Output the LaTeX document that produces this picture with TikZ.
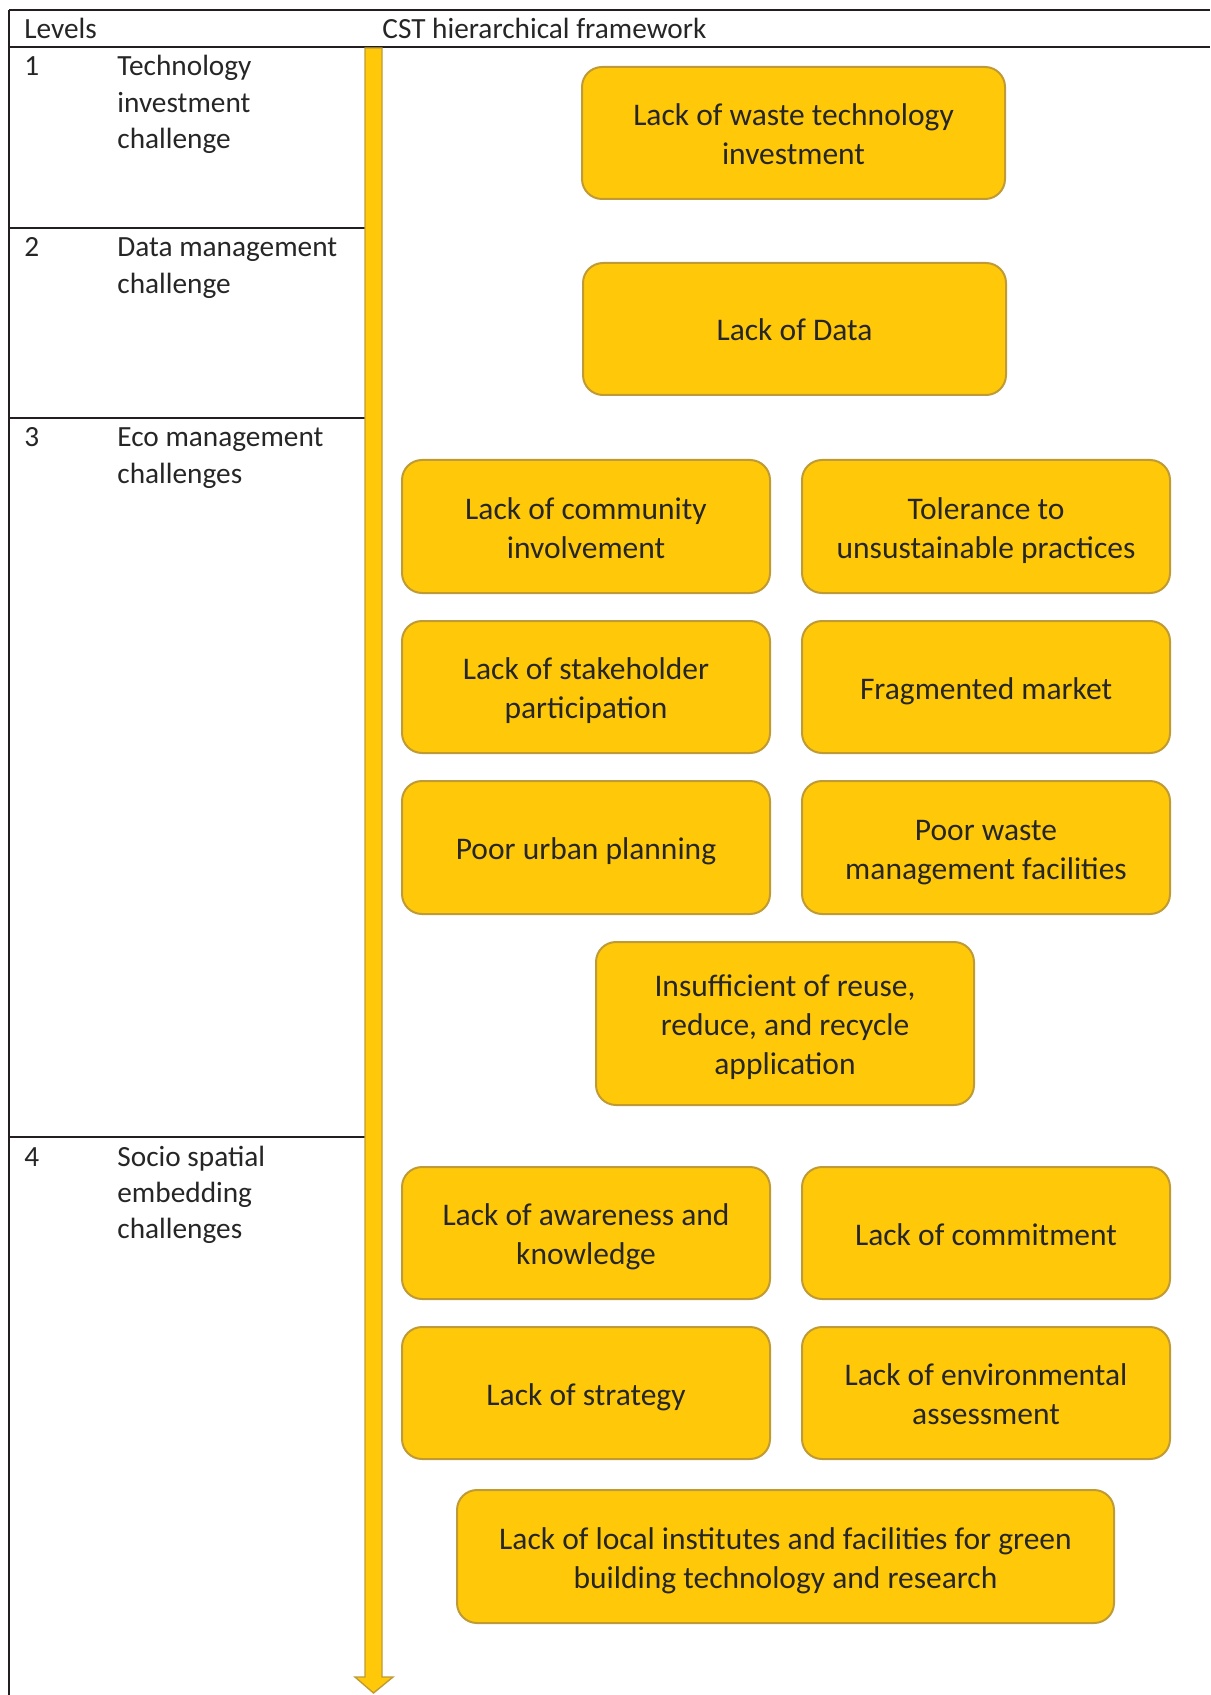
\documentclass[tikz,border=0pt]{standalone}
\usepackage{fontspec}
\setmainfont{Carlito}
\definecolor{boxfill}{HTML}{FFC90A}
\definecolor{boxedge}{HTML}{BF9A35}
\definecolor{rule}{HTML}{231F20}
\definecolor{txt}{HTML}{262626}
\newcommand\boxfnt{\fontsize{15.75}{19.5}\selectfont}
\newcommand\lvfnt{\fontsize{14.65}{18.1}\selectfont}
\newcommand\tstrut{\rule{0pt}{16pt}}
\newcommand\bstrut{\rule[-4pt]{0pt}{0pt}}
\begin{document}
\begin{tikzpicture}[x=0.5pt,y=-0.5pt,
  cbox/.style={draw=boxedge, fill=boxfill, rounded corners=10pt, line width=1pt,
    inner sep=0pt, align=center, font=\boxfnt, text=txt},
  lvtext/.style={anchor=base west, inner sep=0pt, font=\lvfnt, text=txt},
  tabline/.style={draw=rule, line width=1pt}]
\useasboundingbox (0,0) rectangle (1210,1695);
% table lines
\coordinate (tl) at (9,10);
\coordinate (tr) at (1210,10);
\coordinate (hl) at (9,47);
\coordinate (hr) at (1210,47);
\coordinate (bl) at (9,1695);
\coordinate (r1l) at (9,228);
\coordinate (r1r) at (365,228);
\coordinate (r2l) at (9,418);
\coordinate (r2r) at (365,418);
\coordinate (r3l) at (9,1137);
\coordinate (r3r) at (365,1137);
\draw[tabline] (tl) -- (tr);
\draw[tabline] (hl) -- (hr);
\draw[tabline] (tl) -- (bl);
\draw[tabline] (r1l) -- (r1r);
\draw[tabline] (r2l) -- (r2r);
\draw[tabline] (r3l) -- (r3r);
% header
\node[lvtext] (hlev) at (24,39) {Levels};
\node[lvtext] (hcst) at (382,39) {CST hierarchical framework};
% levels
\node[lvtext] (n1) at (24,76) {1};
\node[lvtext] (t1) at (117,76) {\parbox[t]{124pt}{\raggedright Technology\\investment\\challenge}};
\node[lvtext] (n2) at (24,257) {2};
\node[lvtext] (t2) at (117,257) {\parbox[t]{124pt}{\raggedright Data management\\challenge}};
\node[lvtext] (n3) at (24,447) {3};
\node[lvtext] (t3) at (117,447) {\parbox[t]{124pt}{\raggedright Eco management\\challenges}};
\node[lvtext] (n4) at (24,1166) {4};
\node[lvtext] (t4) at (117,1166) {\parbox[t]{124pt}{\raggedright Socio spatial\\embedding\\challenges}};
% arrow
\draw[fill=boxfill, draw=boxedge, line width=0.7pt, line join=miter]
  (365,48) -- (382,48) -- (382,1677) -- (393,1677) -- (373.5,1693)
  -- (355,1677) -- (365,1677) -- cycle;
% boxes
\node[cbox, minimum width=211.5pt, minimum height=66pt] (b1) at (793.5,133) {\tstrut Lack of waste technology\\investment\bstrut};
\node[cbox, minimum width=211.5pt, minimum height=66pt] (b2) at (794.5,329) {\tstrut Lack of Data\bstrut};
\node[cbox, minimum width=184pt, minimum height=66.5pt] (b3a) at (586,526.5) {\tstrut Lack of community\\involvement\bstrut};
\node[cbox, minimum width=184pt, minimum height=66.5pt] (b3b) at (986,526.5) {\tstrut Tolerance to\\unsustainable practices\bstrut};
\node[cbox, minimum width=184pt, minimum height=66pt] (b3c) at (586,687) {\tstrut Lack of stakeholder\\participation\bstrut};
\node[cbox, minimum width=184pt, minimum height=66pt] (b3d) at (986,687) {\tstrut Fragmented market\bstrut};
\node[cbox, minimum width=184pt, minimum height=66.5pt] (b3e) at (586,847.5) {\tstrut Poor urban planning\bstrut};
\node[cbox, minimum width=184pt, minimum height=66.5pt] (b3f) at (986,847.5) {\tstrut Poor waste\\management facilities\bstrut};
\node[cbox, minimum width=189pt, minimum height=81.5pt] (b3g) at (785,1023.5) {\tstrut Insufficient of reuse,\\reduce, and recycle\\application\bstrut};
\node[cbox, minimum width=184pt, minimum height=66pt] (b4a) at (586,1233) {\tstrut Lack of awareness and\\knowledge\bstrut};
\node[cbox, minimum width=184pt, minimum height=66pt] (b4b) at (986,1233) {\tstrut Lack of commitment\bstrut};
\node[cbox, minimum width=184pt, minimum height=66pt] (b4c) at (586,1393) {\tstrut Lack of strategy\bstrut};
\node[cbox, minimum width=184pt, minimum height=66pt] (b4d) at (986,1393) {\tstrut Lack of environmental\\assessment\bstrut};
\node[cbox, minimum width=328.5pt, minimum height=66.5pt] (b4e) at (785.5,1556.5) {\tstrut Lack of local institutes and facilities for green\\building technology and research\bstrut};
\end{tikzpicture}
\end{document}
